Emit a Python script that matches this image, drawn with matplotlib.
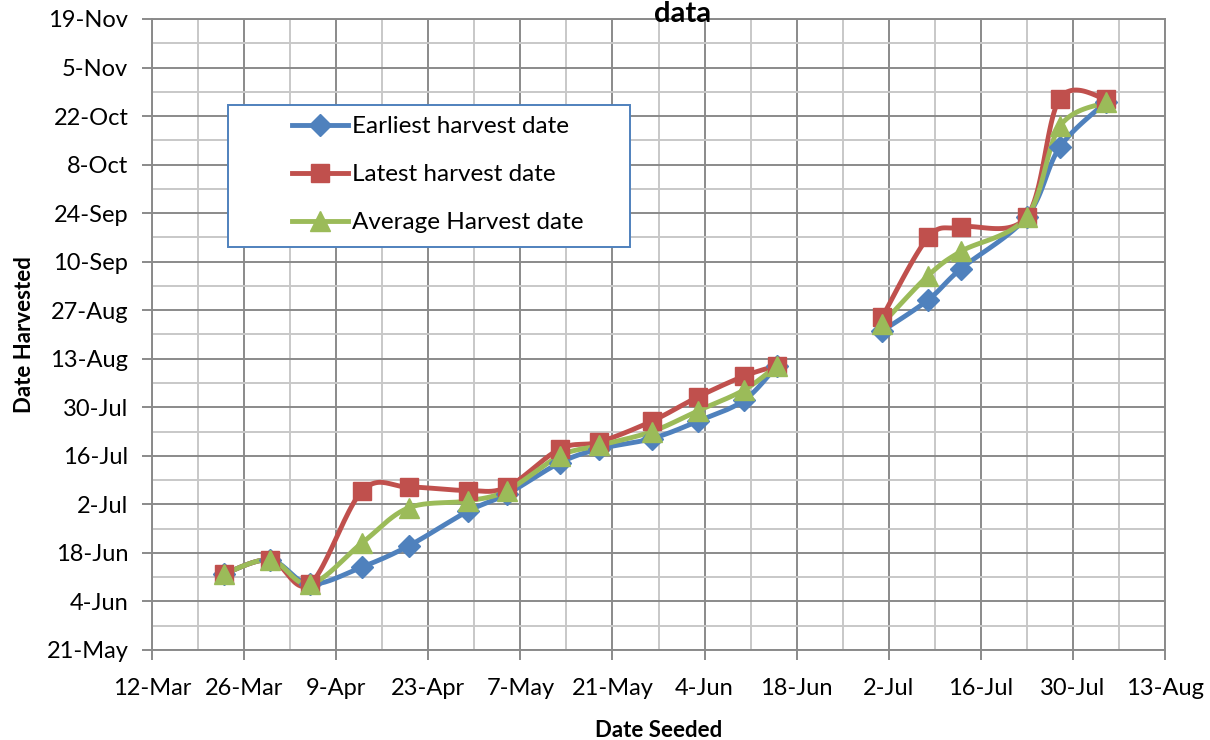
import numpy as np
import matplotlib
matplotlib.use("Agg")
import matplotlib.pyplot as plt
import matplotlib.dates as mdates
from matplotlib.lines import Line2D
from matplotlib.patches import Rectangle
from matplotlib.ticker import FixedLocator
from datetime import datetime

YEAR = 2010

# ---- data ----
seeded = ["23-Mar", "30-Mar", "5-Apr", "13-Apr", "20-Apr", "29-Apr", "5-May",
          "13-May", "19-May", "27-May", "3-Jun", "10-Jun", "15-Jun",
          "1-Jul", "8-Jul", "13-Jul", "23-Jul", "28-Jul", "4-Aug"]
segment = [0] * 13 + [1] * 6
earliest = ["12-Jun", "16-Jun", "9-Jun", "14-Jun", "20-Jun", "30-Jun", "5-Jul",
            "14-Jul", "18-Jul", "21-Jul", "26-Jul", "1-Aug", "11-Aug",
            "21-Aug", "30-Aug", "8-Sep", "23-Sep", "13-Oct", "26-Oct"]
latest = ["12-Jun", "16-Jun", "9-Jun", "6-Jul", "7-Jul", "6-Jul", "7-Jul",
          "18-Jul", "20-Jul", "26-Jul", "2-Aug", "8-Aug", "11-Aug",
          "25-Aug", "17-Sep", "20-Sep", "23-Sep", "27-Oct", "27-Oct"]
average = ["12-Jun", "16-Jun", "9-Jun", "21-Jun", "1-Jul", "3-Jul", "6-Jul",
           "16-Jul", "19-Jul", "23-Jul", "29-Jul", "4-Aug", "11-Aug",
           "23-Aug", "6-Sep", "13-Sep", "23-Sep", "19-Oct", "26-Oct"]
series_names = ["Earliest harvest date", "Latest harvest date", "Average Harvest date"]

x_ticks = ["12-Mar", "26-Mar", "9-Apr", "23-Apr", "7-May", "21-May", "4-Jun",
           "18-Jun", "2-Jul", "16-Jul", "30-Jul", "13-Aug"]
y_ticks = ["21-May", "4-Jun", "18-Jun", "2-Jul", "16-Jul", "30-Jul", "13-Aug",
           "27-Aug", "10-Sep", "24-Sep", "8-Oct", "22-Oct", "5-Nov", "19-Nov"]


def d(s):
    return mdates.date2num(datetime.strptime(f"{s}-{YEAR}", "%d-%b-%Y"))


def smooth(x, y, n=24):
    pts = np.column_stack([x, y])
    P = np.vstack([pts[0], pts, pts[-1]])
    out = []
    t = np.linspace(0, 1, n)[:, None]
    for i in range(1, len(P) - 2):
        p0, p1, p2, p3 = P[i - 1], P[i], P[i + 1], P[i + 2]
        c1 = p1 + (p2 - p0) / 6.0
        c2 = p2 - (p3 - p1) / 6.0
        b = ((1 - t) ** 3) * p1 + 3 * ((1 - t) ** 2) * t * c1 + 3 * (1 - t) * t ** 2 * c2 + t ** 3 * p2
        out.append(b)
    return np.vstack(out)


plt.rcParams['font.family'] = ['Lato', 'DejaVu Sans']

fig = plt.figure(figsize=(12.1, 7.4), dpi=100)
ax = fig.add_axes([152 / 1210, 90 / 740, 1013 / 1210, 631 / 740])

xs = np.array([d(s) for s in seeded])
seg = np.array(segment)
colors = ["#4F81BD", "#C0504D", "#9BBB59"]
markers = ["D", "s", "^"]
msizes = [11, 13, 15]
handles = []
for vals, c, m, ms, name in zip([earliest, latest, average], colors, markers, msizes, series_names):
    ys = np.array([d(s) for s in vals])
    for sg in np.unique(seg):
        mask = seg == sg
        curve = smooth(xs[mask], ys[mask])
        ax.plot(curve[:, 0], curve[:, 1], color=c, lw=3.5, solid_capstyle='round', zorder=3)
    ax.plot(xs, ys, linestyle='none', marker=m, markersize=ms, color=c, zorder=4)
    handles.append(Line2D([0], [0], color=c, lw=3.5, marker=m, markersize=ms))

xt = [d(s) for s in x_ticks]
yt = [d(s) for s in y_ticks]
ax.set_xlim(xt[0], xt[-1])
ax.set_ylim(yt[0], yt[-1])
ax.xaxis.set_major_locator(FixedLocator(xt))
ax.yaxis.set_major_locator(FixedLocator(yt))
ax.set_xticklabels(x_ticks)
ax.set_yticklabels(y_ticks)
ax.xaxis.set_minor_locator(FixedLocator([v + 7 for v in xt[:-1]]))
ax.yaxis.set_minor_locator(FixedLocator([v + 7 for v in yt[:-1]]))
ax.grid(which='major', color='#8a8a8a', lw=1.4, zorder=0)
ax.grid(which='minor', color='#c8c8c8', lw=1.4, zorder=0)
ax.set_axisbelow(True)
ax.tick_params(which='major', length=7, width=1.4, color='#8a8a8a', labelsize=17)
ax.tick_params(axis='x', which='major', pad=13)
ax.tick_params(axis='y', which='major', pad=10)
ax.tick_params(which='minor', length=0)
for sp in ax.spines.values():
    sp.set_color('#8a8a8a')
    sp.set_linewidth(1.4)

ax.set_xlabel("Date Seeded", fontsize=16, fontweight='bold', labelpad=15)
ax.set_ylabel("Date Harvested", fontsize=16, fontweight='bold', labelpad=8)

fig.text(683 / 1210, 1 - 1 / 740, "data", ha='center', va='top', fontsize=21, fontweight='bold')

# legend box
x0 = (228 - 152) / 1013
x1 = (630 - 152) / 1013
y0 = (650 - 247) / 631
y1 = (650 - 105) / 631
ax.add_patch(Rectangle((x0, y0), x1 - x0, y1 - y0, transform=ax.transAxes,
                       facecolor='white', edgecolor='#4F81BD', lw=1.4, zorder=5))
leg = ax.legend(handles, series_names, loc='upper left',
                bbox_to_anchor=((292 - 152) / 1013, (650 - 116) / 631),
                frameon=False, fontsize=17.5, labelspacing=1.12, handlelength=2.3,
                handletextpad=0.17, borderpad=0, borderaxespad=0)
leg.set_zorder(6)

fig.savefig("out.png", dpi=100)
